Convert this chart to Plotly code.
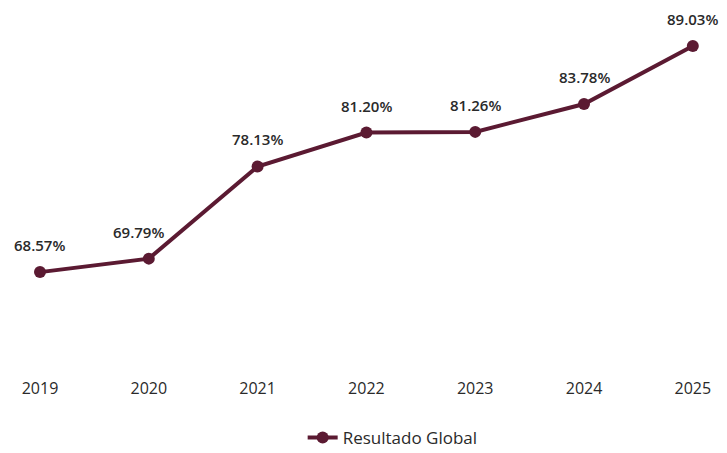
import plotly.graph_objects as go

years = ["2019", "2020", "2021", "2022", "2023", "2024", "2025"]
values = [68.57, 69.79, 78.13, 81.20, 81.26, 83.78, 89.03]
series_name = "Resultado Global"

color = "#5b1a32"
text_color = "#2a2a2a"
font_family = "Open Sans"
xpos = list(range(len(years)))

fig = go.Figure()
fig.add_trace(go.Scatter(
    x=xpos, y=values, mode="lines+markers", name=series_name,
    line=dict(color=color, width=4),
    marker=dict(color=color, size=12),
    showlegend=True,
))

label_xshift = [0, -10, 0, 0, 0, 0, 0]
for xi, v, xs in zip(xpos, values, label_xshift):
    fig.add_annotation(x=xi, y=v, text=f"{v:.2f}%", showarrow=False,
                       yshift=27, xshift=xs,
                       font=dict(family=font_family, size=15, color=text_color, weight=600))

fig.update_layout(
    width=719, height=445,
    margin=dict(l=0, r=0, t=0, b=80),
    paper_bgcolor="white", plot_bgcolor="white",
    font=dict(family=font_family, size=15, color=text_color, weight=600),
    xaxis=dict(range=[-0.294, 6.314], tickmode="array", tickvals=xpos,
               ticktext=years, showgrid=False, zeroline=False, showline=False,
               ticklabelstandoff=4,
               tickfont=dict(family=font_family, size=16, color=text_color, weight=500)),
    yaxis=dict(range=[59.44, 92.47], visible=False),
    legend=dict(orientation="h", x=0.535, xanchor="center", yref="container",
                y=0.034, yanchor="middle",
                font=dict(family=font_family, size=17, color=text_color, weight=500)),
)

fig.write_html("out.html")
